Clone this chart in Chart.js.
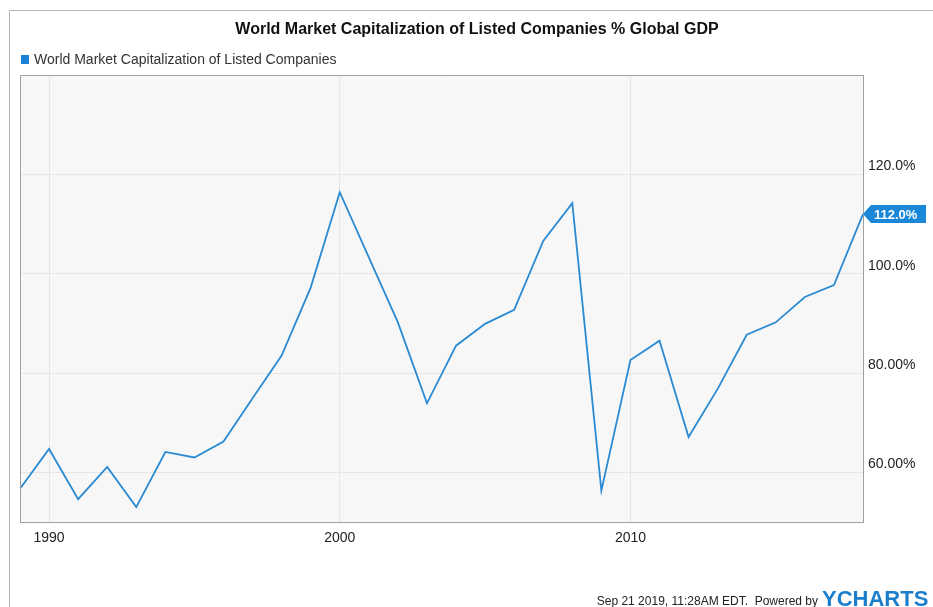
<!DOCTYPE html>
<html>
<head>
<meta charset="utf-8">
<script src="https://cdn.jsdelivr.net/npm/chart.js@4/dist/chart.umd.min.js"></script>
<style>
  html, body { margin: 0; padding: 0; background: #fff; }
</style>
</head>
<body>
<canvas id="chart" width="933" height="607"></canvas>
<script>
// Chart data
const years = [1989, 1990, 1991, 1992, 1993, 1994, 1995, 1996, 1997, 1998,
               1999, 2000, 2001, 2002, 2003, 2004, 2005, 2006, 2007, 2008,
               2009, 2010, 2011, 2012, 2013, 2014, 2015, 2016, 2017, 2018];
const capToGdp = [56.7, 64.7, 54.6, 61.1, 53.0, 64.1, 63.0, 66.2, 74.9, 83.5,
                  97.2, 116.4, 103.3, 90.2, 73.9, 85.5, 89.9, 92.7, 106.6, 114.2,
                  56.3, 82.6, 86.5, 67.1, 76.8, 87.7, 90.2, 95.3, 97.7, 112.0];

// Axis ticks and labels
const xTicks = [1990, 2000, 2010];
const yTicks = [60, 80, 100, 120];
const yTickLabels = ['60.00%', '80.00%', '100.0%', '120.0%'];

// Texts
const chartTitle = 'World Market Capitalization of Listed Companies % Global GDP';
const seriesName = 'World Market Capitalization of Listed Companies';
const lastValueLabel = '112.0%';
const footerText = 'Sep 21 2019, 11:28AM EDT.  Powered by';
const brandText = 'YCHARTS';

const lineBlue = '#2a8ad2';
const font = '"Liberation Sans", Arial, sans-serif';

// Background, frames, title, legend, footer and last value tag
const decorations = {
    id: 'decorations',
    beforeDraw(chart) {
        const { ctx, chartArea: a } = chart;
        ctx.save();
        ctx.fillStyle = '#f7f7f7';
        ctx.fillRect(a.left, a.top, a.right - a.left, a.bottom - a.top);
        ctx.restore();
    },
    afterDraw(chart) {
        const { ctx, chartArea: a } = chart;
        ctx.save();

        // outer frame (top and left edges)
        ctx.strokeStyle = '#b5b5b5';
        ctx.lineWidth = 1;
        ctx.beginPath();
        ctx.moveTo(9.5, 607);
        ctx.lineTo(9.5, 10.5);
        ctx.lineTo(933, 10.5);
        ctx.stroke();

        // plot frame top and left
        ctx.strokeStyle = '#a0a0a0';
        ctx.beginPath();
        ctx.moveTo(a.left + 0.5, a.bottom);
        ctx.lineTo(a.left + 0.5, a.top + 0.5);
        ctx.lineTo(a.right, a.top + 0.5);
        ctx.stroke();

        // title
        ctx.fillStyle = '#111';
        ctx.font = 'bold 16px ' + font;
        ctx.textAlign = 'center';
        ctx.textBaseline = 'middle';
        ctx.fillText(chartTitle, 477, 30);

        // legend
        ctx.fillStyle = '#1a82d6';
        ctx.fillRect(21, 55, 8, 9);
        ctx.fillStyle = '#333';
        ctx.font = '14px ' + font;
        ctx.textAlign = 'left';
        ctx.fillText(seriesName, 34, 60);

        // footer
        ctx.font = '12px ' + font;
        ctx.textAlign = 'right';
        ctx.textBaseline = 'alphabetic';
        ctx.fillStyle = '#222';
        ctx.fillText(footerText, 818, 605);
        ctx.font = 'bold 22px ' + font;
        ctx.fillStyle = '#1c7fcc';
        ctx.textAlign = 'left';
        ctx.fillText(brandText, 822, 606);

        // last value tag
        const x = chart.scales.x.getPixelForValue(years[years.length - 1]);
        const y = chart.scales.y.getPixelForValue(capToGdp[capToGdp.length - 1]);
        ctx.fillStyle = '#1a87d8';
        ctx.beginPath();
        ctx.moveTo(x, y);
        ctx.lineTo(x + 8, y - 9);
        ctx.lineTo(x + 63, y - 9);
        ctx.lineTo(x + 63, y + 9);
        ctx.lineTo(x + 8, y + 9);
        ctx.closePath();
        ctx.fill();
        ctx.fillStyle = '#fff';
        ctx.font = 'bold 13px ' + font;
        ctx.textAlign = 'left';
        ctx.textBaseline = 'middle';
        ctx.fillText(lastValueLabel, x + 11, y + 1);

        ctx.restore();
    }
};

new Chart(document.getElementById('chart'), {
    type: 'line',
    data: {
        datasets: [{
            label: seriesName,
            data: years.map((yr, i) => ({ x: yr, y: capToGdp[i] })),
            borderColor: lineBlue,
            borderWidth: 1.8,
            pointRadius: 0,
            tension: 0,
            fill: false
        }]
    },
    options: {
        responsive: false,
        animation: false,
        devicePixelRatio: 1,
        layout: { padding: { left: 20, top: 75, right: 0, bottom: 0 } },
        plugins: {
            legend: { display: false },
            title: { display: false },
            tooltip: { enabled: false }
        },
        scales: {
            x: {
                type: 'linear',
                min: 1989,
                max: 2018,
                afterBuildTicks: s => { s.ticks = xTicks.map(v => ({ value: v })); },
                afterFit: s => { s.height = 85; },
                grid: { color: '#e6e6e6', drawTicks: false },
                border: { color: '#a0a0a0', width: 1 },
                ticks: {
                    padding: 8,
                    color: '#222',
                    font: { family: font, size: 14 },
                    callback: v => String(v),
                    maxRotation: 0
                }
            },
            y: {
                position: 'right',
                min: 50,
                max: 140,
                afterBuildTicks: s => { s.ticks = yTicks.map(v => ({ value: v })); },
                afterFit: s => { s.width = 70; },
                grid: { color: '#e6e6e6', drawTicks: false },
                border: { color: '#a0a0a0', width: 1 },
                ticks: {
                    padding: 5,
                    labelOffset: -8,
                    color: '#222',
                    font: { family: font, size: 14 },
                    callback: v => yTickLabels[yTicks.indexOf(v)]
                }
            }
        }
    },
    plugins: [decorations]
});
</script>
</body>
</html>
